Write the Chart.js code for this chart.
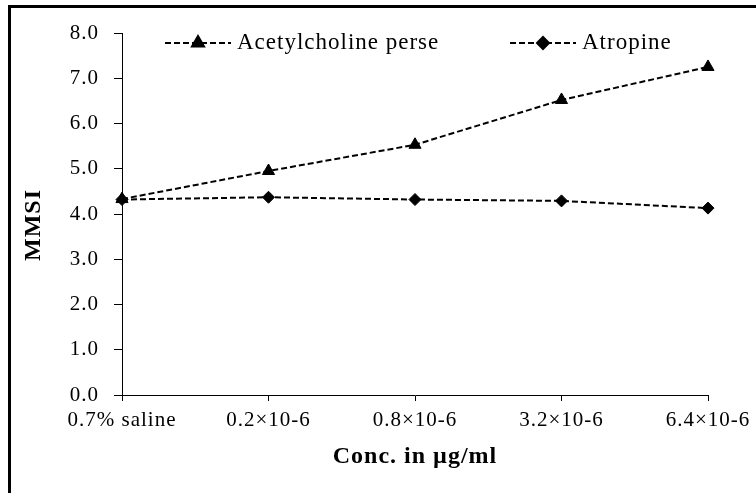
<!DOCTYPE html>
<html>
<head>
<meta charset="utf-8">
<script src="https://cdn.jsdelivr.net/npm/chart.js@4/dist/chart.umd.min.js"></script>
<style>
  html, body { margin: 0; padding: 0; background: #fff; overflow: hidden; }
  #wrap { position: relative; width: 756px; height: 493px; }
  #frame { position: absolute; left: 8px; top: 5px; width: 780px; height: 520px; border: 3px solid #000; box-sizing: border-box; pointer-events: none; }
  canvas { position: absolute; left: 0; top: 0; }
</style>
</head>
<body>
<div id="wrap">
  <canvas id="chartCanvas" width="756" height="493"></canvas>
  <div id="frame"></div>
</div>
<script>
const categories = ["0.7% saline", "0.2\u00d710-6", "0.8\u00d710-6", "3.2\u00d710-6", "6.4\u00d710-6"];
const acetylcholine = [4.33, 4.95, 5.53, 6.52, 7.25];
const atropine = [4.32, 4.37, 4.32, 4.29, 4.13];
const seriesNames = ["Acetylcholine perse", "Atropine"];
const yTitle = "MMSI";
const xTitle = "Conc. in \u00b5g/ml";

const serif = "'Liberation Serif', 'Times New Roman', serif";

// the original text is rather wide, so space the letters a little
const wideText = {
    id: "wideText",
    beforeDraw(chart) {
        chart.ctx.letterSpacing = "1px";
    },
};

// legend inside the plot, Excel style: dashed line + marker + text
// and the y title, placed by hand
const insideLegend = {
    id: "insideLegend",
    afterDraw(chart) {
        const ctx = chart.ctx;
        const items = [
            { x: 165, text: seriesNames[0], style: "triangle", r: 7 },
            { x: 510, text: seriesNames[1], style: "rectRot", r: 6 },
        ];
        const y = 43;
        ctx.save();
        items.forEach((it) => {
            ctx.strokeStyle = "#000";
            ctx.lineWidth = 2;
            ctx.setLineDash([6, 3]);
            ctx.beginPath();
            ctx.moveTo(it.x, y);
            ctx.lineTo(it.x + 66, y);
            ctx.stroke();
            ctx.setLineDash([]);
            ctx.fillStyle = "#000";
            Chart.helpers.drawPoint(ctx, { pointStyle: it.style, radius: it.r, borderWidth: 1 }, it.x + 33, y);
            ctx.font = "23px " + serif;
            ctx.textBaseline = "middle";
            ctx.textAlign = "left";
            ctx.fillText(it.text, it.x + 72, y);
        });

        ctx.translate(34, 225);
        ctx.rotate(-Math.PI / 2);
        ctx.font = "bold 24px " + serif;
        ctx.textAlign = "center";
        ctx.textBaseline = "middle";
        ctx.fillText(yTitle, 0, 0);
        ctx.restore();
    },
};

const ctx = document.getElementById("chartCanvas").getContext("2d");
new Chart(ctx, {
    type: "line",
    data: {
        labels: categories,
        datasets: [
            {
                label: seriesNames[0],
                data: acetylcholine,
                borderColor: "#000",
                backgroundColor: "#000",
                borderWidth: 2,
                borderDash: [6, 3],
                pointStyle: "triangle",
                pointRadius: 7,
                pointBorderWidth: 1,
                tension: 0,
            },
            {
                label: seriesNames[1],
                data: atropine,
                borderColor: "#000",
                backgroundColor: "#000",
                borderWidth: 2,
                borderDash: [6, 3],
                pointStyle: "rectRot",
                pointRadius: 6,
                pointBorderWidth: 1,
                tension: 0,
            },
        ],
    },
    options: {
        responsive: false,
        animation: false,
        layout: { padding: { left: 14, top: 33, right: 48, bottom: 18 } },
        plugins: {
            legend: { display: false },
            tooltip: { enabled: false },
        },
        scales: {
            x: {
                offset: false,
                border: { color: "#000", width: 1 },
                grid: { drawOnChartArea: false, drawTicks: true, tickLength: 6, color: "#000" },
                ticks: { color: "#000", font: { family: serif, size: 21 }, padding: 7, maxRotation: 0, autoSkip: false },
                title: { display: true, text: xTitle, color: "#000", font: { family: serif, size: 24, weight: "bold" }, padding: { top: 4 } },
                afterFit(scale) { scale.height = 80; },
            },
            y: {
                min: 0,
                max: 8,
                border: { color: "#000", width: 1 },
                grid: { drawOnChartArea: false, drawTicks: true, tickLength: 8, color: "#000" },
                ticks: {
                    stepSize: 1,
                    color: "#000",
                    font: { family: serif, size: 21 },
                    padding: 15,
                    callback: (v) => v.toFixed(1),
                },
                title: { display: false },
                afterFit(scale) { scale.width = 108; },
            },
        },
    },
    plugins: [wideText, insideLegend],
});
</script>
</body>
</html>
